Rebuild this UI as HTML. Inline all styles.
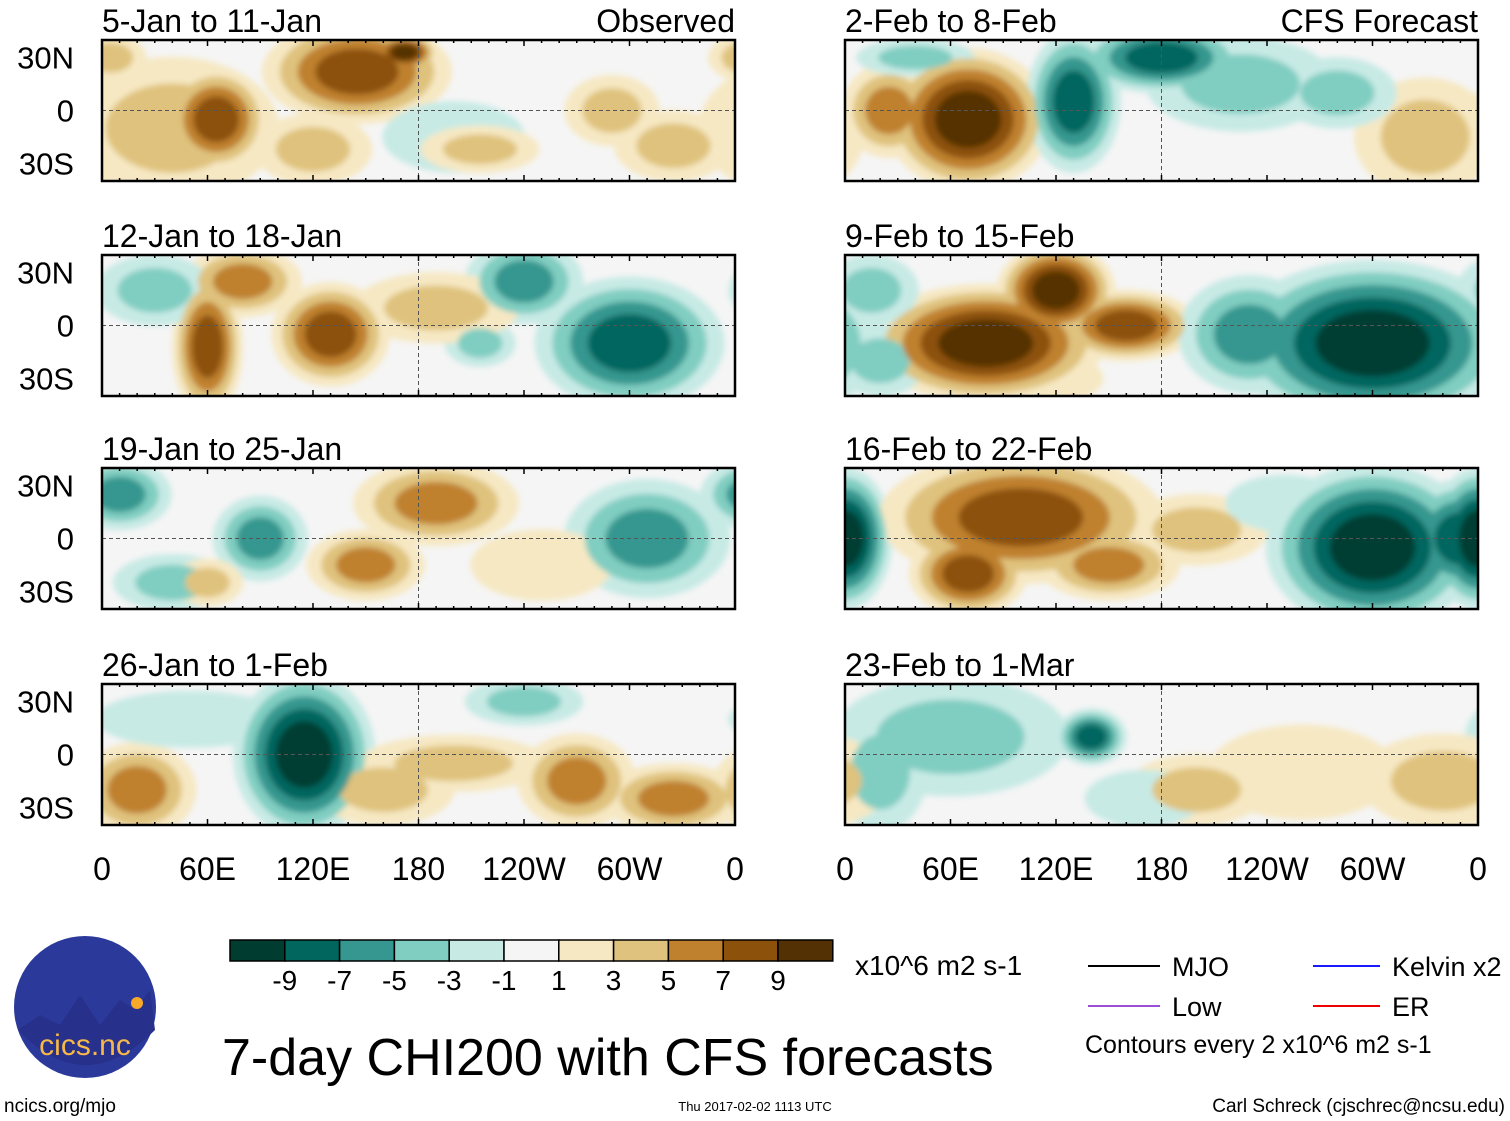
<!DOCTYPE html>
<html><head><meta charset="utf-8"><style>
body{margin:0;background:#fff;width:1510px;height:1121px;overflow:hidden;font-family:"Liberation Sans",sans-serif}
svg{display:block}
</style></head><body>
<svg id="s" width="1510" height="1121" xmlns="http://www.w3.org/2000/svg">
<defs><filter id="bl" x="-20%" y="-20%" width="140%" height="140%"><feGaussianBlur stdDeviation="3"/></filter></defs>
<g id="panels"></g>
<g id="bottom"></g>
</svg>
<script>
// colour levels (BrBG)
const levels=[-9,-7,-5,-3,-1,1,3,5,7,9];
const colors=['#003c30','#01665e','#35978f','#80cdc1','#c7eae5','#f5f5f5','#f6e8c3','#dfc27d','#bf812d','#8c510a','#543005'];
const titles=['5-Jan to 11-Jan','12-Jan to 18-Jan','19-Jan to 25-Jan','26-Jan to 1-Feb','2-Feb to 8-Feb','9-Feb to 15-Feb','16-Feb to 22-Feb','23-Feb to 1-Mar'];
const lonTicks=['0','60E','120E','180','120W','60W','0'];
const latTicks=['30N','0','30S'];
// blobs per panel: [lon, lat, value, lonRadius, latRadius]
const blobs0=[[40,-10,3,45,30],[65,-5,7,22,22],[145,22,7,40,22],[172,33,9,14,8],[120,-22,3,25,15],[200,-15,-1,30,15],[290,0,3,20,15],[325,-20,3,25,15],[215,-22,3,25,10],[5,30,3,15,10]];
const blobs1=[[60,-12,7,15,30],[130,-5,7,25,22],[80,25,5,25,15],[30,20,-3,25,15],[300,-10,-7,40,28],[240,25,-5,25,18],[215,-10,-3,15,10],[190,10,3,35,15]];
const blobs2=[[10,25,-5,22,15],[90,0,-5,20,18],[190,20,5,35,18],[150,-15,5,25,15],[310,0,-5,35,25],[40,-25,-3,25,12],[60,-25,3,15,10],[250,-15,1,30,15]];
const blobs3=[[115,0,-9,30,35],[20,-20,5,25,20],[270,-15,5,25,20],[325,-25,5,30,15],[160,-20,3,30,15],[240,30,-3,25,10],[200,-5,3,40,12],[50,20,-1,40,12]];
const blobs4=[[70,-5,9,35,30],[25,0,5,20,20],[130,5,-7,20,30],[180,30,-7,35,15],[225,15,-3,40,20],[330,-15,3,30,25],[280,10,-3,25,15],[40,30,-3,25,8]];
const blobs5=[[80,-10,9,50,25],[120,20,9,25,20],[160,0,7,30,15],[300,-10,-9,60,35],[230,-5,-5,30,25],[15,20,-3,20,15],[20,-20,-3,20,15],[120,-30,1,20,10]];
const blobs6=[[0,0,-9,20,30],[100,12,7,60,28],[70,-20,7,25,18],[150,-15,5,30,15],[300,-5,-9,45,35],[350,0,-7,25,25],[200,5,3,30,15],[250,20,-1,25,12]];
const blobs7=[[140,10,-7,15,12],[60,10,-3,50,25],[20,-10,-3,20,25],[200,-20,3,30,15],[340,-15,3,35,20],[260,-10,1,40,20],[170,-25,-1,25,12]];
const allBlobs=[blobs0,blobs1,blobs2,blobs3,blobs4,blobs5,blobs6,blobs7];

const NS='http://www.w3.org/2000/svg';
function mk(tag,attrs,parent){const e=document.createElementNS(NS,tag);for(const k in attrs)e.setAttribute(k,attrs[k]);parent.appendChild(e);return e;}
function colorFor(v){let i=0;while(i<levels.length&&v>levels[i])i++;return colors[i];}
const colX=[102,845],rowY=[40,255,468,684],PW=633,PH=141,GROW=1.35;
const root=document.getElementById('panels');
for(let p=0;p<8;p++){
  const x0=colX[p<4?0:1],y0=rowY[p%4];
  const xs=lon=>x0+lon/360*PW;
  const ys=lat=>y0+PH/2-lat/80*PH;
  const g=mk('g',{},root);
  
  
  const cp=mk('clipPath',{id:'c'+p},g);mk('rect',{x:x0,y:y0,width:PW,height:PH},cp);
  mk('rect',{x:x0,y:y0,width:PW,height:PH,fill:'#f5f5f5'},g);
  const fg=mk('g',{'clip-path':'url(#c'+p+')'},g);
  const bg=mk('g',{filter:'url(#bl)'},fg);
  // draw outer (weak) rings of all blobs first, then stronger levels
  for(let l=1;l<=9;l+=2){
    allBlobs[p].forEach(b=>{
      const [lon,lat,v,rl,rt]=b;const sgn=Math.sign(v),a=Math.abs(v);
      if(l>a)return;
      const f=1-(l-1)/(a+1)*0.75;
      for(const off of [0,-360,360]){
        const e=mk('ellipse',{cx:xs(lon+off),cy:ys(lat),rx:rl/360*PW*f*GROW,ry:rt/80*PH*f*GROW,fill:colorFor(sgn*(l+0.5))},bg);
        
        
      }
    });
  }
  mk('line',{x1:x0,x2:x0+PW,y1:ys(0),y2:ys(0),stroke:'#555','stroke-dasharray':'4 3','stroke-width':1},g);
  mk('line',{x1:xs(180),x2:xs(180),y1:y0,y2:y0+PH,stroke:'#555','stroke-dasharray':'4 3','stroke-width':1},g);
  mk('rect',{x:x0,y:y0,width:PW,height:PH,fill:'none',stroke:'#000','stroke-width':2.5},g);
  for(let lon=0;lon<=360;lon+=10){const t=lon%60==0?6:3;
    mk('line',{x1:xs(lon),x2:xs(lon),y1:y0,y2:y0+t,stroke:'#000','stroke-width':1.5},g);
    mk('line',{x1:xs(lon),x2:xs(lon),y1:y0+PH,y2:y0+PH-t,stroke:'#000','stroke-width':1.5},g);}
  const tt=mk('text',{x:x0,y:y0-8,'font-size':32},g);tt.textContent=titles[p];
  
  if(p==0||p==4){const r=mk('text',{x:x0+PW,y:y0-8,'font-size':32,'text-anchor':'end'},g);r.textContent=p==0?'Observed':'CFS Forecast';
    }
  if(p<4){[30,0,-30].forEach((lat,i)=>{const t=mk('text',{x:74,y:ys(lat)+11,'font-size':31,'text-anchor':'end'},g);t.textContent=latTicks[i];
    });}
  if(p%4==3){lonTicks.forEach((l,i)=>{const t=mk('text',{x:xs(i*60),y:880,'font-size':32,'text-anchor':'middle'},g);t.textContent=l;
    });}
}
// colorbar
const bt=document.getElementById('bottom');
const cbg=mk('g',{},bt);
colors.forEach((c,i)=>mk('rect',{x:230+i*54.8,y:940,width:54.8,height:21,fill:c,stroke:'#000','stroke-width':1.5},cbg));
levels.forEach((v,i)=>{const t=mk('text',{x:230+(i+1)*54.8,y:990,'font-size':28,'text-anchor':'middle'},cbg);t.textContent=v;});
</script>
<svg width="1510" height="1121" style="position:absolute;left:0;top:0" xmlns="http://www.w3.org/2000/svg">
<text x="855" y="975" font-size="28">x10^6 m2 s-1</text>
<line x1="1088" y1="966" x2="1160" y2="966" stroke="#000" stroke-width="2"/>
<text x="1172" y="976" font-size="27">MJO</text>
<line x1="1313" y1="966" x2="1380" y2="966" stroke="#1a1aff" stroke-width="2"/>
<text x="1392" y="976" font-size="27">Kelvin x2</text>
<line x1="1088" y1="1006" x2="1160" y2="1006" stroke="#9a4fd6" stroke-width="2"/>
<text x="1172" y="1016" font-size="27">Low</text>
<line x1="1313" y1="1006" x2="1380" y2="1006" stroke="#e00" stroke-width="2"/>
<text x="1392" y="1016" font-size="27">ER</text>
<text x="1085" y="1053" font-size="25">Contours every 2 x10^6 m2 s-1</text>
<text x="222" y="1075" font-size="52">7-day CHI200 with CFS forecasts</text>
<g>
<circle cx="85" cy="1007" r="71" fill="#2b3a9a"/>
<path d="M18 1030 L40 1015 L60 1025 L80 995 L100 1025 L120 1000 L135 1010 L150 990 L155 1030 Q85 1100 18 1030Z" fill="#27308a"/>
<circle cx="137" cy="1003" r="6" fill="#f7a928"/>
<text x="85" y="1055" font-size="30" fill="#f7b84a" text-anchor="middle">cics.nc</text>
</g>
<text x="4" y="1112" font-size="19">ncics.org/mjo</text>
<text x="755" y="1111" font-size="13" text-anchor="middle">Thu 2017-02-02 1113 UTC</text>
<text x="1505" y="1112" font-size="19" text-anchor="end">Carl Schreck (cjschrec@ncsu.edu)</text>
</svg>
</body></html>
